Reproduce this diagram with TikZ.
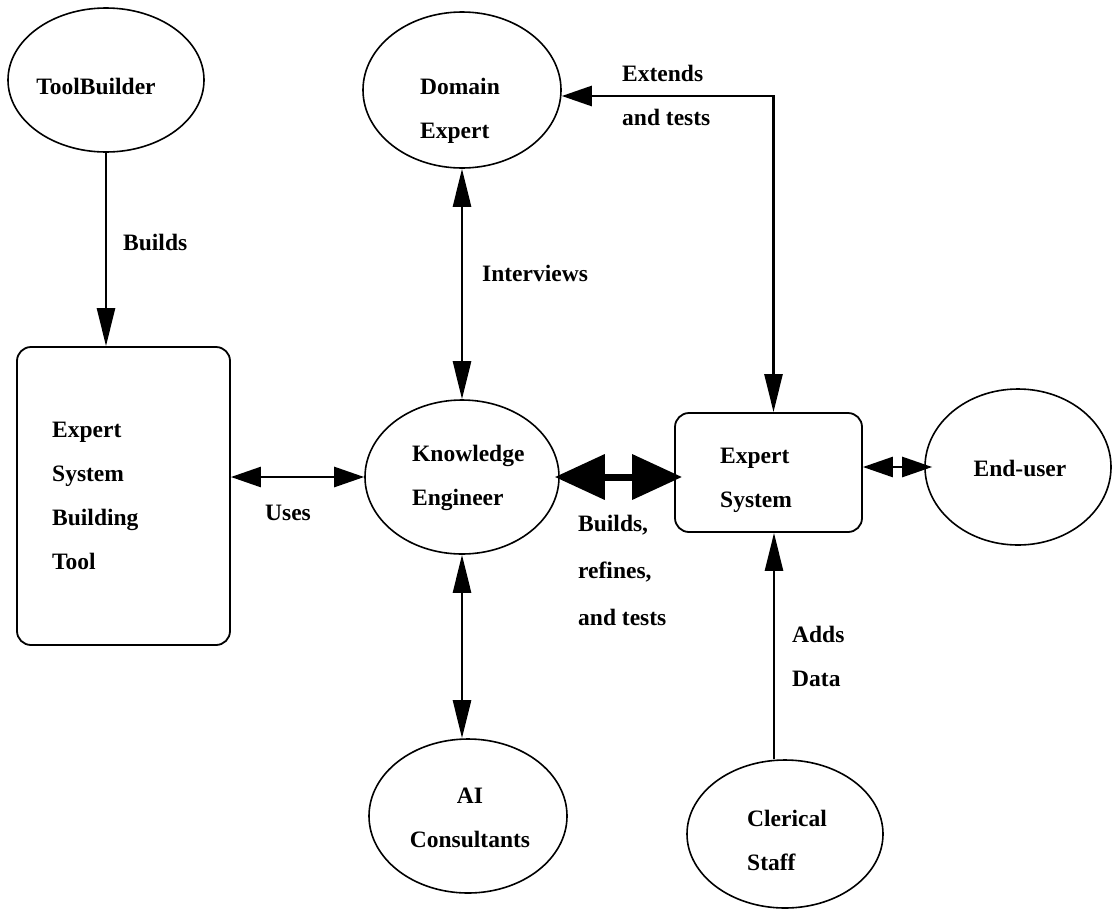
\documentclass[tikz,border=0pt]{standalone}
\usepackage{fontspec}
\setmainfont{Liberation Serif}
\usetikzlibrary{arrows.meta,shapes.geometric}
\tikzset{
  narrow/.tip={Triangle[length=38pt,width=18pt]},
  wide/.tip={Triangle[length=30pt,width=20pt]},
  heavy/.tip={Triangle[length=50pt,width=44pt]}}
\begin{document}
\begin{tikzpicture}[x=1pt,y=-1pt,
  every node/.style={font=\bfseries\fontsize{23.5}{44}\selectfont},
  actor/.style={ellipse,draw,line width=1.6pt,inner sep=0pt},
  system/.style={draw,line width=1.8pt,rounded corners=14pt,inner sep=0pt},
  txt/.style={align=left,anchor=west,inner sep=0pt},
  link/.style={line width=2.6pt}]
\useasboundingbox (0,0) rectangle (1118,908);

% people and systems
\node[actor,minimum width=196pt,minimum height=144pt] (tb) at (106,80) {};
\node[actor,minimum width=198pt,minimum height=156pt] (de) at (462,90) {};
\node[actor,minimum width=194pt,minimum height=154pt] (ke) at (462,477) {};
\node[actor,minimum width=186pt,minimum height=156pt] (eu) at (1018,467) {};
\node[actor,minimum width=198pt,minimum height=154pt] (ai) at (468,816) {};
\node[actor,minimum width=196pt,minimum height=148pt] (cs) at (785,834) {};
\node[system,minimum width=213pt,minimum height=298pt] (esbt) at (123.5,496) {};
\node[system,minimum width=187pt,minimum height=119pt] (es) at (768.5,472.5) {};

% texts
\node[anchor=center] (tbt) at (96,86) {ToolBuilder};
\node[txt] (det) at (420,111) {Domain\\Expert};
\node[txt] (esbtt) at (52,496) {Expert\\System\\Building\\Tool};
\node[txt] (ket) at (412,478) {Knowledge\\Engineer};
\node[txt] (est) at (720,480) {Expert\\System};
\node[anchor=center] (eut) at (1020,468) {End-user};
\node[align=center] (ait) at (470,818) {AI\\Consultants};
\node[txt] (cst) at (747,840) {Clerical\\Staff};

% connector labels
\node[txt] (l1) at (123,242) {Builds};
\node[txt] (l2) at (622,95) {Extends\\and tests};
\node[txt] (l3) at (482,273) {Interviews};
\node[txt] (l4) at (265,513) {Uses};
\node[txt,font=\bfseries\fontsize{23.5}{47}\selectfont] (l5) at (578,570) {Builds,\\refines,\\and tests};
\node[txt] (l6) at (792,656) {Adds\\Data};

% connectors
\draw[link,-narrow] (tb.south) -- (esbt.north -| tb.south);
\draw[link,narrow-narrow] (de.south) -- (ke.north);
\draw[link,wide-narrow] ([yshift=-6pt]de.east) -| ([xshift=5pt]es.north);
\draw[link,wide-wide] (esbt.east |- ke.west) -- (ke.west);
\draw[line width=7pt,heavy-heavy] ([xshift=-5pt]ke.east) -- ([xshift=8pt]es.west |- ke.east);
\draw[link,wide-wide] (es.east |- eu.west) -- ([xshift=8pt]eu.west);
\draw[link,narrow-narrow] (ke.south) -- (ke.south |- ai.north);
\draw[link,-narrow] ([xshift=-11pt]cs.north) -- ([xshift=-11pt]cs.north |- es.south);
\end{tikzpicture}
\end{document}
